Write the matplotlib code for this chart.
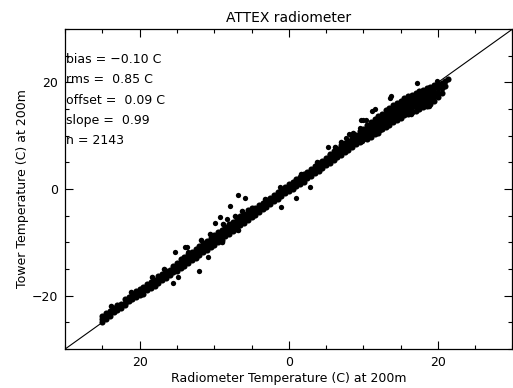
import matplotlib
matplotlib.use('Agg')
import matplotlib.pyplot as plt
from matplotlib.ticker import MultipleLocator, FixedLocator
import numpy as np

plt.rcParams['font.family'] = ['DejaVu Sans']

### radiometer (x) vs tower (y) temperatures
band = [
    (-25.0, [-24.9, -24.3, -23.8]), (-24.5, [-24.4, -23.7, -23.2]),
    (-24.0, [-23.8, -23.3, -22.8]), (-23.5, [-23.1, -22.8, -22.3]),
    (-23.0, [-22.7, -22.2, -21.8]), (-22.5, [-22.3, -21.7, -21.5]),
    (-22.0, [-21.7, -21.3, -20.7]), (-21.5, [-21.0, -20.8, -20.3]),
    (-21.0, [-20.6, -20.2, -19.9]), (-20.5, [-20.3, -19.7, -19.2]),
    (-20.0, [-19.8, -19.4, -18.8]), (-19.5, [-19.6, -19.0, -18.4]),
    (-19.0, [-19.0, -18.5, -17.9]), (-18.5, [-18.6, -18.1, -17.5]),
    (-18.0, [-18.1, -17.4, -17.0]), (-17.5, [-17.6, -17.0, -16.4]),
    (-17.0, [-17.1, -16.5, -15.9]), (-16.5, [-16.7, -16.0, -15.4]),
    (-16.0, [-16.2, -15.5, -15.1]), (-15.5, [-15.6, -15.0, -14.4]),
    (-15.0, [-15.3, -14.6, -13.9]),
    (-14.5, [-14.9, -14.2, -13.6, -13.2]), (-14.0, [-14.4, -13.8, -13.1, -12.8]),
    (-13.5, [-13.9, -13.3, -12.7, -12.2]), (-13.0, [-13.4, -12.6, -12.1, -11.8]),
    (-12.5, [-12.9, -12.2, -11.8, -11.2]), (-12.0, [-12.4, -11.6, -11.1, -10.7]),
    (-11.5, [-11.8, -11.2, -10.7, -10.2]), (-11.0, [-11.4, -10.6, -10.1, -9.8]),
    (-10.5, [-10.8, -10.1, -9.7, -9.1]), (-10.0, [-10.4, -9.6, -9.0, -8.7]),
    (-9.5, [-9.9, -9.2, -8.6, -8.0]), (-9.0, [-9.5, -8.6, -8.1, -7.6]),
    (-8.5, [-8.8, -8.1, -7.5, -7.1]), (-8.0, [-8.4, -7.6, -7.1, -6.5]),
    (-7.5, [-7.8, -7.1, -6.6, -6.1]), (-7.0, [-7.4, -6.5, -6.0, -5.6]),
    (-6.5, [-6.8, -6.0, -5.6, -5.0]), (-6.0, [-6.3, -5.6, -5.0, -4.6]),
    (-5.5, [-5.8, -5.0, -4.6, -4.0]), (-5.0, [-5.3, -4.6, -4.1, -3.6]),
    (-4.5, [-4.8, -4.2, -3.6]), (-4.0, [-4.3, -3.7, -3.0]),
    (-3.5, [-3.8, -3.1, -2.6]), (-3.0, [-3.3, -2.6, -2.1]),
    (-2.5, [-2.8, -2.2, -1.6]), (-2.0, [-2.3, -1.6, -1.1]),
    (-1.5, [-1.8, -1.2, -0.6]), (-1.0, [-1.3, -0.6, -0.1]),
    (-0.5, [-0.8, -0.2, 0.4]), (0.0, [-0.3, 0.3, 0.9]),
    (0.5, [0.0, 0.6, 1.3]), (1.0, [0.5, 1.2, 1.8]),
    (1.5, [1.0, 1.6, 2.3]), (2.0, [1.4, 2.2, 2.8]),
    (2.5, [2.0, 2.7, 3.2]), (3.0, [2.5, 3.1, 3.8]),
    (3.5, [3.0, 3.7, 4.3]), (4.0, [3.4, 4.2, 4.8]),
    (4.5, [4.0, 4.6, 5.3]), (5.0, [4.5, 5.2, 5.8]),
    (5.5, [4.9, 5.7, 6.3, 6.6]), (6.0, [5.4, 6.1, 6.8, 7.1]),
    (6.5, [6.0, 6.7, 7.2, 7.6]), (7.0, [6.4, 7.1, 7.8, 8.2]),
    (7.5, [7.0, 7.7, 8.2, 8.7]), (8.0, [7.4, 8.2, 8.8, 9.1]),
    (8.5, [7.9, 8.6, 9.3, 9.7]), (9.0, [8.5, 9.2, 9.7, 10.2]),
    (9.5, [8.9, 9.6, 10.3, 10.8]), (10.0, [9.4, 10.1, 10.8, 11.2]),
    (10.5, [9.4, 10.2, 10.9, 11.5, 12.0]), (11.0, [9.8, 10.7, 11.4, 12.0, 12.6]),
    (11.5, [10.3, 11.1, 11.9, 12.6, 13.1]), (12.0, [10.6, 11.6, 12.4, 13.0, 13.7]),
    (12.5, [11.2, 12.0, 12.8, 13.6, 14.1]), (13.0, [11.6, 12.5, 13.3, 14.0, 14.8]),
    (13.5, [12.0, 13.0, 13.8, 14.6, 15.2]), (14.0, [12.5, 13.4, 14.3, 15.0, 15.8]),
    (14.5, [12.9, 13.9, 14.8, 15.5, 16.2]), (15.0, [13.4, 14.3, 15.1, 16.0, 16.6]),
    (15.5, [13.8, 14.7, 15.5, 16.3, 17.0]), (16.0, [14.1, 15.0, 15.8, 16.6, 17.4]),
    (16.5, [14.4, 15.3, 16.1, 16.9, 17.7]), (17.0, [14.7, 15.6, 16.4, 17.2, 18.0]),
    (17.5, [15.0, 15.9, 16.7, 17.5, 18.3]), (18.0, [15.3, 16.2, 17.0, 17.8, 18.6]),
    (18.5, [15.6, 16.5, 17.3, 18.1, 18.9]), (19.0, [16.0, 16.9, 17.7, 18.5, 19.2]),
    (19.5, [16.6, 17.4, 18.2, 19.0, 19.6]), (20.0, [17.3, 18.1, 18.9, 19.7]),
    (20.5, [18.1, 18.9, 19.8]), (21.0, [19.3, 20.2]), (21.3, [20.6]),
]
radio_x = [x for x, ys in band for _ in ys]
tower_y = [y for _, ys in band for y in ys]

# points on the ragged edges of the band
edge_x = [-23.8, -21.2, -18.3, -16.8, -11.8, -10.6, -8.8, -7.2, -6.3, -9.0, -6.8,
          -3.2, 1.6, 3.8, 6.2, 7.0, 8.6, 9.8, 12.2, 16.4, 18.8]
edge_y = [-22.0, -19.4, -16.5, -15.0, -9.6, -8.4, -6.6, -5.0, -4.1, -9.9, -7.6,
          -1.8, 2.8, 5.1, 7.8, 8.8, 10.6, 9.0, 11.0, 14.0, 15.6]

# scattered points off the main band
out_x = [-15.2, -13.7, -13.9, -13.5, -12.1, -15.6, -14.8, -10.9, -9.9, -9.2, -8.3,
         -7.9, -6.8, -5.9, -1.1, -1.2, 0.9, 2.8, 5.2, 7.7, 8.1, 9.5, 10.3, 9.9,
         9.7, 10.4, 11.2, 11.5, 13.7, 13.6, 17.2, 19.9]
out_y = [-11.8, -10.9, -10.9, -11.8, -15.3, -17.7, -16.5, -12.7, -6.3, -5.3, -5.7,
         -3.2, -1.1, -1.6, -3.4, 0.3, -1.6, 0.3, 7.8, 9.6, 10.3, 11.5, 11.5, 12.9,
         12.9, 12.9, 14.6, 15.0, 17.4, 17.0, 19.8, 20.2]

stats = ['bias = \u22120.10 C', 'rms =  0.85 C', 'offset =  0.09 C',
         'slope =  0.99', 'n = 2143']

fig = plt.figure(figsize=(5.13, 3.88), dpi=100)
ax = fig.add_axes([0.127, 0.1005, 0.872, 0.8245])

ax.plot([-30, 30], [-30, 30], color='black', lw=0.8)
ax.plot(radio_x, tower_y, 'o', color='black', ms=4.4, mew=0)
ax.plot(edge_x, edge_y, 'o', color='black', ms=4.0, mew=0)
ax.plot(out_x, out_y, 'o', color='black', ms=3.8, mew=0)

ax.set_xlim(-30, 30)
ax.set_ylim(-30, 30)
ax.xaxis.set_major_locator(FixedLocator([-20, 0, 20]))
ax.yaxis.set_major_locator(FixedLocator([-20, 0, 20]))
ax.xaxis.set_minor_locator(MultipleLocator(5))
ax.yaxis.set_minor_locator(MultipleLocator(5))
ax.set_xticklabels(['20', '0', '20'])
ax.set_yticklabels(['\u221220', '0', '20'])
ax.tick_params(which='both', direction='in', top=True, right=True,
               width=0.8, labelsize=9, pad=5)
ax.tick_params(which='major', length=6)
ax.tick_params(which='minor', length=3)
for s in ax.spines.values():
    s.set_linewidth(0.9)

ty = [60, 80, 101, 121, 141]
for t, py in zip(stats, ty):
    ax.text(0.003, 1 - (py - 29) / 321, t, transform=ax.transAxes,
            fontsize=9, ha='left', va='center')

ax.set_title('ATTEX radiometer', fontsize=10, pad=5)
ax.set_xlabel('Radiometer Temperature (C) at 200m', fontsize=9, labelpad=2)
ax.set_ylabel('Tower Temperature (C) at 200m', fontsize=9, labelpad=2)

plt.savefig('out.png', dpi=100)
